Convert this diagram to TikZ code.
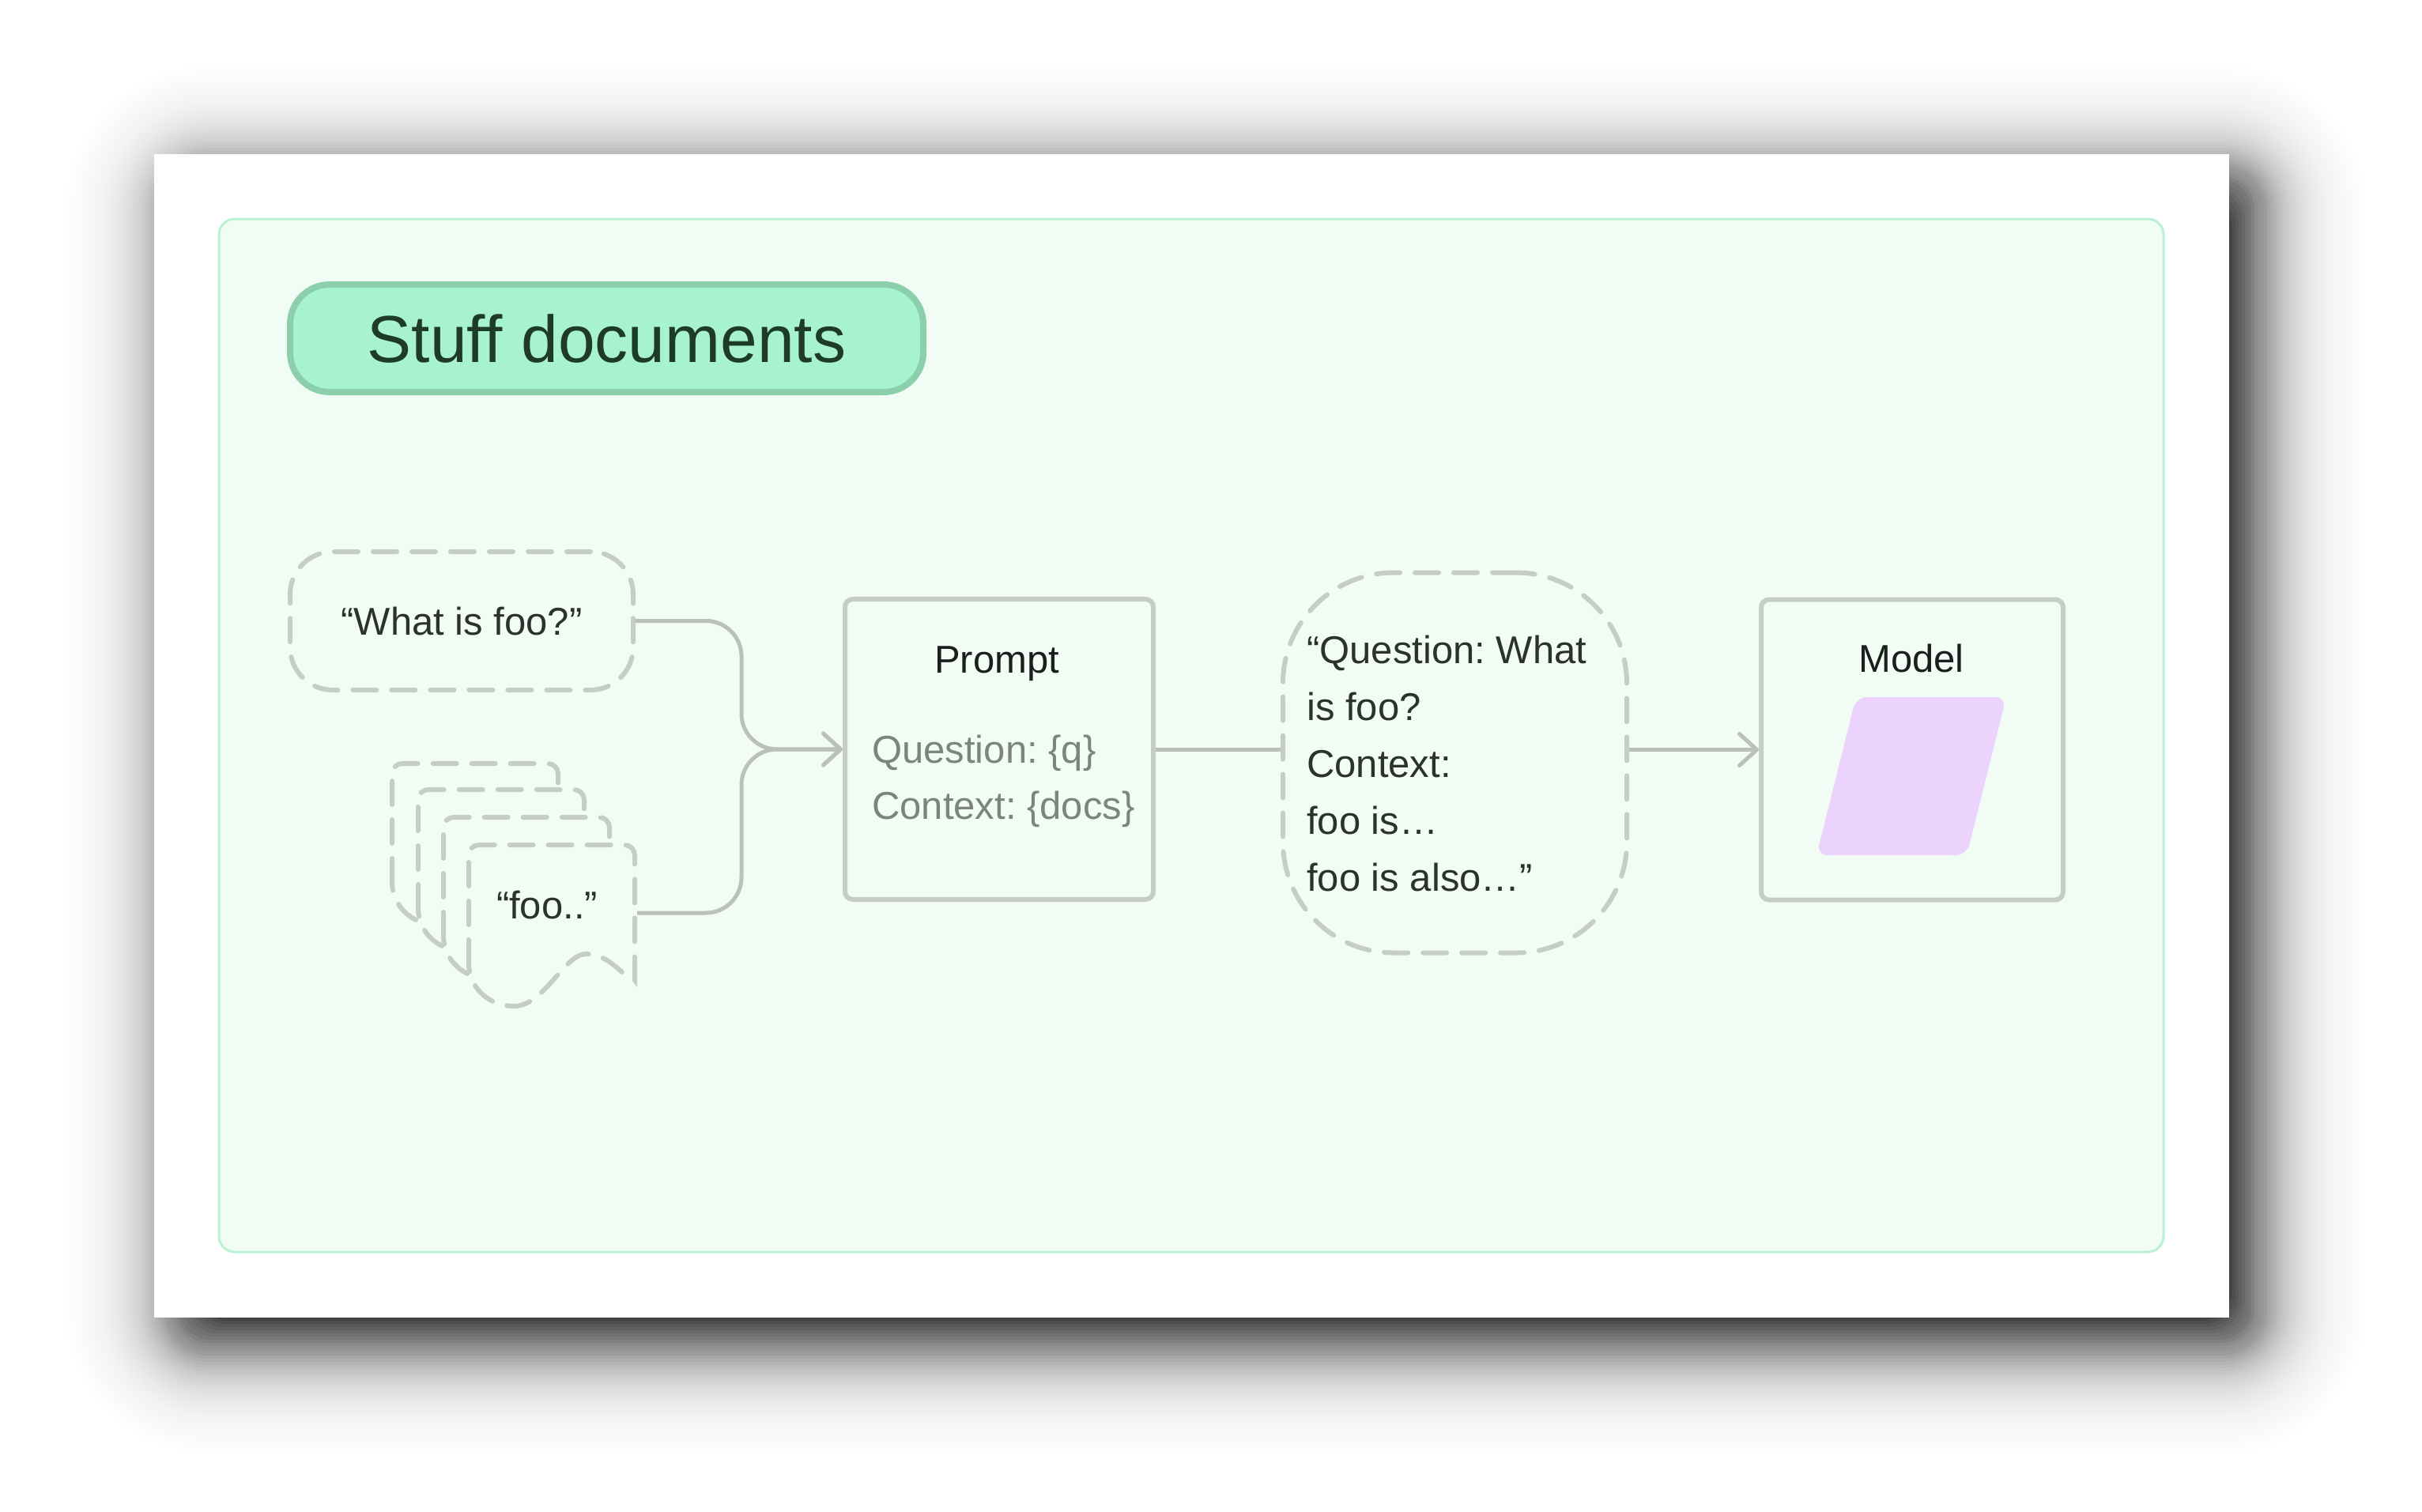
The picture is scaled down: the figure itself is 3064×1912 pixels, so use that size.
\documentclass[tikz,border=0pt]{standalone}
\usepackage{fontspec}
\setmainfont{Liberation Sans}
\usetikzlibrary{arrows.meta}
\frenchspacing
\definecolor{panelfill}{HTML}{F0FCF4}
\definecolor{panelline}{HTML}{B9F2D3}
\definecolor{pillfill}{HTML}{A7F3CF}
\definecolor{pillline}{HTML}{8CCFAB}
\definecolor{titletext}{HTML}{1E3B29}
\definecolor{boxline}{HTML}{C6CDC7}
\definecolor{conn}{HTML}{BBC0BB}
\definecolor{darktext}{HTML}{1B1E1C}
\definecolor{quotetext}{HTML}{2C312D}
\definecolor{graytext}{HTML}{7D837E}
\definecolor{purplefill}{HTML}{EBD3FD}
\tikzset{
  dashline/.style={draw=boxline, line width=6pt, dash pattern=on 30pt off 19pt, line cap=round},
  dashbox/.style={dashline, fill=panelfill},
  solidbox/.style={draw=boxline, line width=6pt, rounded corners=10pt, fill=panelfill, inner sep=0pt},
  link/.style={draw=conn, line width=5pt},
  linkarrow/.style={link, -{Straight Barb[length=22pt,width=40pt,round]}},
  txt/.style={font=\fontsize{49}{60}\selectfont\frenchspacing, inner sep=0pt},
}
\begin{document}
\begin{tikzpicture}[x=1pt,y=-1pt]
\useasboundingbox (0,0) rectangle (3064,1912);
\fill[white] (0,0) rectangle (3064,1912);
% blurred drop shadow of the card
\foreach \k in {0,...,57}{
  \pgfmathsetmacro{\rr}{-30+4*\k}
  \pgfmathsetmacro{\op}{1-exp(-0.102*exp(-(\rr+30)/45))}
  \pgfmathsetmacro{\rc}{max(\rr,0)+40}
  \pgfmathsetmacro{\xa}{225-\rr}
  \pgfmathsetmacro{\ya}{225-\rr}
  \pgfmathsetmacro{\xb}{2850+\rr}
  \pgfmathsetmacro{\yb}{1697+\rr}
  \fill[black, fill opacity=\op, rounded corners=\rc pt] (\xa,\ya) rectangle (\xb,\yb);
}
% card and panel
\fill[white] (195,195) rectangle (2820,1667);
\draw[draw=panelline, fill=panelfill, line width=3pt, rounded corners=20pt] (277,277) rectangle (2737,1584);

% title
\node[draw=pillline, fill=pillfill, line width=8pt, rounded corners=50pt,
      minimum width=801pt, minimum height=136pt, inner sep=0pt,
      font=\fontsize{84}{100}\selectfont, text=titletext] (title) at (767.5,428) {Stuff documents};

% question box
\node[dashbox, rounded corners=54pt, minimum width=434pt, minimum height=175pt,
      txt, text=quotetext] (what) at (584,785.5) {“What is foo?”};

% document stack
\foreach \dx/\dy in {496/966, 529/999, 561/1034, 593/1069}{
  \begin{scope}[shift={(\dx,\dy)}]
    \draw[dashbox] (0,150) [rounded corners=13pt] -- (0,0) -- (210,0) -- (210,158) [sharp corners]
      .. controls (210,168) and (202,168) .. (195,162)
      .. controls (180,148) and (165,137) .. (147,138)
      .. controls (120,140) and (95,204) .. (57,204)
      .. controls (25,204) and (0,180) .. (0,150) -- cycle;
  \end{scope}
}
\node[txt, text=quotetext, anchor=base] (foo) at (692,1162) {“foo..”};
\coordinate (fooR) at (806,1155);

% prompt box
\node[solidbox, minimum width=390pt, minimum height=380pt] (prompt) at (1264,948) {};
\node[txt, text=darktext, anchor=base] (prompttitle) at (1261,851) {Prompt};
\node[txt, text=graytext, anchor=base west] (promptq) at (1103,965) {Question: \{q\}};
\node[txt, text=graytext, anchor=base west] (promptc) at (1103,1036) {Context: \{docs\}};

% joined connectors into the prompt
\coordinate (join) at (938,948);
\draw[linkarrow, rounded corners=45pt] (what.east) -| (join) -- (prompt.west);
\draw[linkarrow, rounded corners=45pt] (fooR) -| (join) -- (prompt.west);

% stuffed prompt
\node[dashbox, rounded corners=140pt, minimum width=435pt, minimum height=481pt] (ctx) at (1840.5,965) {};
\node[txt, text=quotetext, anchor=base west] (ctx1) at (1653,839) {“Question: What};
\node[txt, text=quotetext, anchor=base west] (ctx2) at (1653,911) {is foo?};
\node[txt, text=quotetext, anchor=base west] (ctx3) at (1653,983) {Context:};
\node[txt, text=quotetext, anchor=base west] (ctx4) at (1653,1055) {foo is…};
\node[txt, text=quotetext, anchor=base west] (ctx5) at (1653,1127) {foo is also…”};
\draw[link] (prompt.east) -- (prompt.east -| ctx.west);

% model box
\node[solidbox, minimum width=382pt, minimum height=380pt] (model) at (2419,948.5) {};
\node[txt, text=darktext, anchor=base] (modeltitle) at (2418,850) {Model};
\fill[purplefill, rounded corners=14pt] (2348,882) -- (2538,882) -- (2488,1082) -- (2298,1082) -- cycle;
\draw[linkarrow] (ctx.east |- model.west) -- (model.west);
\end{tikzpicture}
\end{document}
